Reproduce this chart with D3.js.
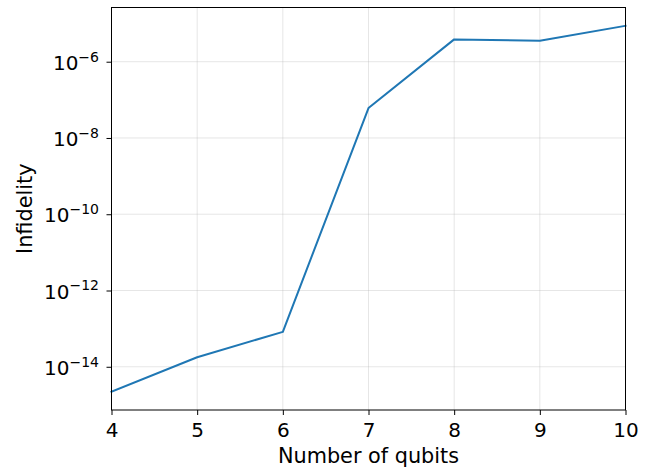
<!DOCTYPE html>
<html><head><meta charset="utf-8">
<script src="https://cdn.jsdelivr.net/npm/d3@7"></script>
<style>body{margin:0;background:#fff}svg{display:block;font-family:"DejaVu Sans",sans-serif}</style>
</head><body>
<script>
const qubits = [4, 5, 6, 7, 8, 9, 10];
const infidelity = [2.22e-15, 1.78e-14, 8.24e-14, 6.1e-8, 3.85e-6, 3.55e-6, 8.75e-6];
const yTickExponents = [-14, -12, -10, -8, -6];
const xTickLabels = ["4","5","6","7","8","9","10"];

const W = 668, H = 467;
const m = {left: 111.5, right: 42.5, top: 7.5, bottom: 57};
const svg = d3.select("body").append("svg").attr("width", W).attr("height", H);

const x = d3.scaleLinear().domain([4, 10]).range([m.left, W - m.right]);
const lmin = Math.log10(d3.min(infidelity)), lmax = Math.log10(d3.max(infidelity));
const pad = (lmax - lmin) * 0.05;
const y = d3.scaleLog().domain([Math.pow(10, lmin - pad), Math.pow(10, lmax + pad)]).range([H - m.bottom, m.top]);

const yTicks = yTickExponents.map(e => Math.pow(10, e));
const TF = 20, LF = 20.8;

// grid
const g = svg.append("g");
g.selectAll(".vg").data(qubits).join("line")
  .attr("x1", d => x(d)).attr("x2", d => x(d)).attr("y1", m.top).attr("y2", H - m.bottom)
  .attr("stroke", "#b0b0b0").attr("stroke-opacity", 0.4).attr("stroke-width", 0.8);
g.selectAll(".hg").data(yTicks).join("line")
  .attr("x1", m.left).attr("x2", W - m.right).attr("y1", d => y(d)).attr("y2", d => y(d))
  .attr("stroke", "#b0b0b0").attr("stroke-opacity", 0.4).attr("stroke-width", 0.8);

// line
svg.append("path").datum(qubits.map((q, i) => [q, infidelity[i]]))
  .attr("fill", "none").attr("stroke", "#1f77b4").attr("stroke-width", 2)
  .attr("stroke-linejoin", "round").attr("stroke-linecap", "square")
  .attr("d", d3.line().x(d => x(d[0])).y(d => y(d[1])));

// axes
const xAxis = d3.axisBottom(x).tickValues(qubits).tickFormat((d, i) => xTickLabels[i]).tickSize(5).tickPadding(0);
const xa = svg.append("g").attr("transform", `translate(0,${H - m.bottom})`).call(xAxis);
xa.select(".domain").remove();
xa.selectAll("line").attr("stroke", "#000").attr("stroke-width", 1);
xa.selectAll("text").attr("font-size", TF).attr("fill", "#000").attr("font-family", "DejaVu Sans")
  .attr("dy", null).attr("y", 26.7);

const yAxis = d3.axisLeft(y).tickValues(yTicks).tickFormat("").tickSize(5);
const ya = svg.append("g").attr("transform", `translate(${m.left},0)`).call(yAxis);
ya.select(".domain").remove();
ya.selectAll("line").attr("stroke", "#000").attr("stroke-width", 1);
ya.selectAll(".tick").each(function(d, i) {
  const t = d3.select(this).append("text").attr("x", -12.5).attr("y", 7.6).attr("text-anchor", "end")
    .attr("fill", "#000").attr("font-family", "DejaVu Sans");
  t.append("tspan").attr("font-size", TF).text("10");
  t.append("tspan").attr("font-size", TF * 0.7).attr("dy", -8.3).text("\u2212" + Math.abs(yTickExponents[i]));
});

// frame
svg.append("rect").attr("x", m.left).attr("y", m.top).attr("width", W - m.left - m.right).attr("height", H - m.top - m.bottom)
  .attr("fill", "none").attr("stroke", "#000").attr("stroke-width", 1);

// labels
svg.append("text").attr("x", (m.left + W - m.right) / 2).attr("y", 462.5).attr("text-anchor", "middle")
  .attr("font-size", LF).text("Number of qubits");
svg.append("text").attr("transform", `translate(32,${(m.top + H - m.bottom) / 2}) rotate(-90)`).attr("text-anchor", "middle")
  .attr("font-size", LF).text("Infidelity");
</script>
</body></html>
